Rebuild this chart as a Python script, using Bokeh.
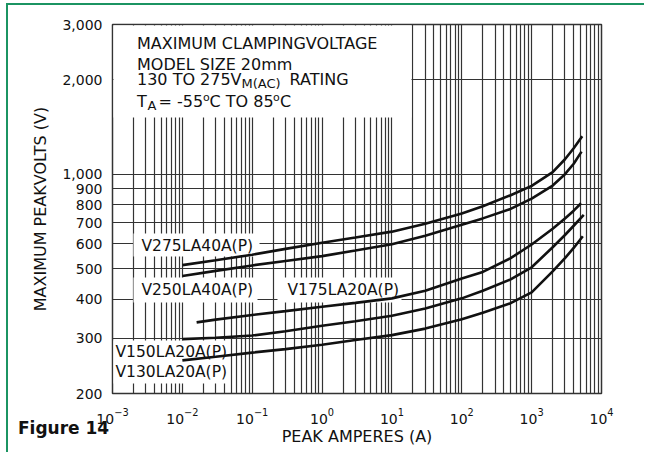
import math
from bokeh.plotting import figure
from bokeh.layouts import column
from bokeh.models import FixedTicker, NumeralTickFormatter, Label, BoxAnnotation, LogTickFormatter, Div
from bokeh.embed import file_html
from bokeh.resources import INLINE

# ---------------- data ----------------
I_V275 = [0.01, 0.03, 0.1, 0.3, 1, 3, 10, 30, 100, 200, 500, 1000, 2000, 3000, 4000, 5300]
V_V275 = [513, 532, 554, 578, 605, 628, 656, 695, 750, 790, 857, 918, 1015, 1116, 1210, 1321]

I_V250 = [0.01, 0.03, 0.1, 0.3, 1, 3, 10, 30, 100, 200, 500, 1000, 2000, 3000, 4000, 5180]
V_V250 = [474, 492, 512, 529, 548, 571, 598, 637, 690, 723, 775, 836, 920, 1000, 1080, 1180]

I_V175 = [0.016, 0.03, 0.1, 0.3, 1, 3, 10, 30, 100, 200, 500, 1000, 2000, 3000, 4000, 5100]
V_V175 = [337, 344, 356, 366, 378, 389, 402, 425, 465, 488, 540, 597, 670, 722, 765, 808]

I_V150 = [0.01, 0.03, 0.1, 0.3, 1, 3, 10, 30, 100, 200, 500, 1000, 2000, 3000, 4000, 5570]
V_V150 = [298, 301, 306, 316, 329, 340, 354, 373, 402, 425, 462, 505, 585, 640, 685, 742]

I_V130 = [0.01, 0.03, 0.1, 0.3, 1, 3, 10, 30, 100, 200, 500, 1000, 2000, 3000, 4000, 5400]
V_V130 = [255, 262, 270, 277, 286, 296, 307, 322, 345, 362, 388, 420, 490, 540, 582, 634]

X_MAJOR = [1e-3, 1e-2, 1e-1, 1, 10, 100, 1000, 10000]
X_MINOR = [m * d for d in X_MAJOR[:-1] for m in range(2, 10)]
Y_TICKS = [200, 300, 400, 500, 600, 700, 800, 900, 1000, 2000, 3000]

X_MIN, X_MAX = 1e-3, 1e4
Y_MIN, Y_MAX = 200, 3000

# ---------------- layout ----------------
W, H = 638, 449
FL, FT, FW, FH = 104, 19, 489, 369
FONT = "DejaVu Sans"
GRID = "#333333"
INK = "#111111"
GREEN = "#1b9462"

# reference-page pixel -> data coordinate (for placing annotations only)
PL, PT = 112, 24
def X(px):
    return 10 ** (math.log10(X_MIN) + (px - PL) / FW * math.log10(X_MAX / X_MIN))

def Y(py):
    return 10 ** (math.log10(Y_MAX) - (py - PT) / FH * math.log10(Y_MAX / Y_MIN))

p = figure(width=W, height=H, x_axis_type="log", y_axis_type="log",
           x_range=(X_MIN, X_MAX), y_range=(Y_MIN, Y_MAX),
           output_backend="svg", toolbar_location=None,
           min_border_left=FL, min_border_right=W - FL - FW,
           min_border_top=FT, min_border_bottom=H - FT - FH)
p.styles = {"border-left": f"2px solid {GREEN}", "border-top": f"2px solid {GREEN}",
            "margin-left": "6px", "margin-top": "3px"}

p.outline_line_color = GRID
p.outline_line_width = 1.5
p.background_fill_color = "white"
p.border_fill_color = "white"

# axes
p.xaxis.ticker = FixedTicker(ticks=X_MAJOR, minor_ticks=X_MINOR)
p.xaxis.formatter = LogTickFormatter()
p.yaxis.ticker = FixedTicker(ticks=Y_TICKS, minor_ticks=[])
p.yaxis.formatter = NumeralTickFormatter(format="0,0")
for ax in (p.xaxis[0], p.yaxis[0]):
    ax.axis_line_color = None
    ax.major_tick_line_color = None
    ax.minor_tick_line_color = None
    ax.major_tick_out = 0
    ax.major_tick_in = 0
    ax.major_label_text_font = FONT
    ax.major_label_text_font_size = "14px"
    ax.major_label_text_color = INK
    ax.axis_label_text_font = FONT
    ax.axis_label_text_font_size = "16px"
    ax.axis_label_text_font_style = "normal"
    ax.axis_label_text_color = INK
    ax.major_label_standoff = 10
p.xaxis.axis_label = "PEAK AMPERES (A)"
p.yaxis.axis_label = "MAXIMUM PEAKVOLTS (V)"
p.xaxis.axis_label_standoff = 0
p.yaxis.axis_label_standoff = 9

# grid
p.xgrid.grid_line_color = GRID
p.xgrid.grid_line_width = 1.2
p.xgrid.minor_grid_line_color = GRID
p.xgrid.minor_grid_line_width = 1.2
p.ygrid.grid_line_color = GRID
p.ygrid.grid_line_width = 1.2

# white masks behind the texts
def mask(l, r, t, b):
    p.add_layout(BoxAnnotation(left=X(l), right=X(r), top=Y(t), bottom=Y(b),
                               fill_color="white", fill_alpha=1.0,
                               line_color=None, line_alpha=0))

mask(113, 411, 25, 117)
mask(133, 259, 233, 256)
mask(133, 257, 277, 302)
mask(277, 401, 277, 302)
mask(113, 227, 340, 383)

def lab(text, px, py, size="16px"):
    p.add_layout(Label(x=X(px), y=Y(py), text=text, text_font=FONT,
                       text_font_size=size, text_baseline="middle", text_align="left",
                       text_color=INK))

# info box
lab("MAXIMUM CLAMPINGVOLTAGE", 136.5, 42.5)
lab("MODEL SIZE 20mm", 136.5, 64.2)
lab("130 TO 275V", 136.5, 78.8)
lab("M(AC)", 241, 83.3, size="13px")
lab("RATING", 289, 78.8)
lab("T", 136.5, 101.3)
lab("A", 147, 104.5, size="13px")
lab("= -55", 158, 101.3)
lab("o", 202.5, 96.5, size="11px")
lab("C TO 85", 209, 101.3)
lab("o", 272.5, 96.5, size="11px")
lab("C", 279.5, 101.3)

# curve labels
lab("V275LA40A(P)", 141, 245.5, size="15.5px")
lab("V250LA40A(P)", 141, 289.5, size="15.5px")
lab("V175LA20A(P)", 287, 289.5, size="15.5px")
lab("V150LA20A(P)", 115, 351, size="15.5px")
lab("V130LA20A(P)", 115, 371, size="15.5px")

# curves
for xs, ys in ((I_V275, V_V275), (I_V250, V_V250), (I_V175, V_V175),
               (I_V150, V_V150), (I_V130, V_V130)):
    p.line(xs, ys, line_color=INK, line_width=2.6, level="overlay")

caption = Div(text="Figure 14", width=120, height=20,
              styles={"font-family": FONT, "font-size": "17px", "font-weight": "bold",
                      "line-height": "20px", "color": INK,
                      "margin-top": "-34px", "margin-left": "18px"})

layout = column(p, caption)
open("out.html", "w").write(file_html(layout, INLINE))
